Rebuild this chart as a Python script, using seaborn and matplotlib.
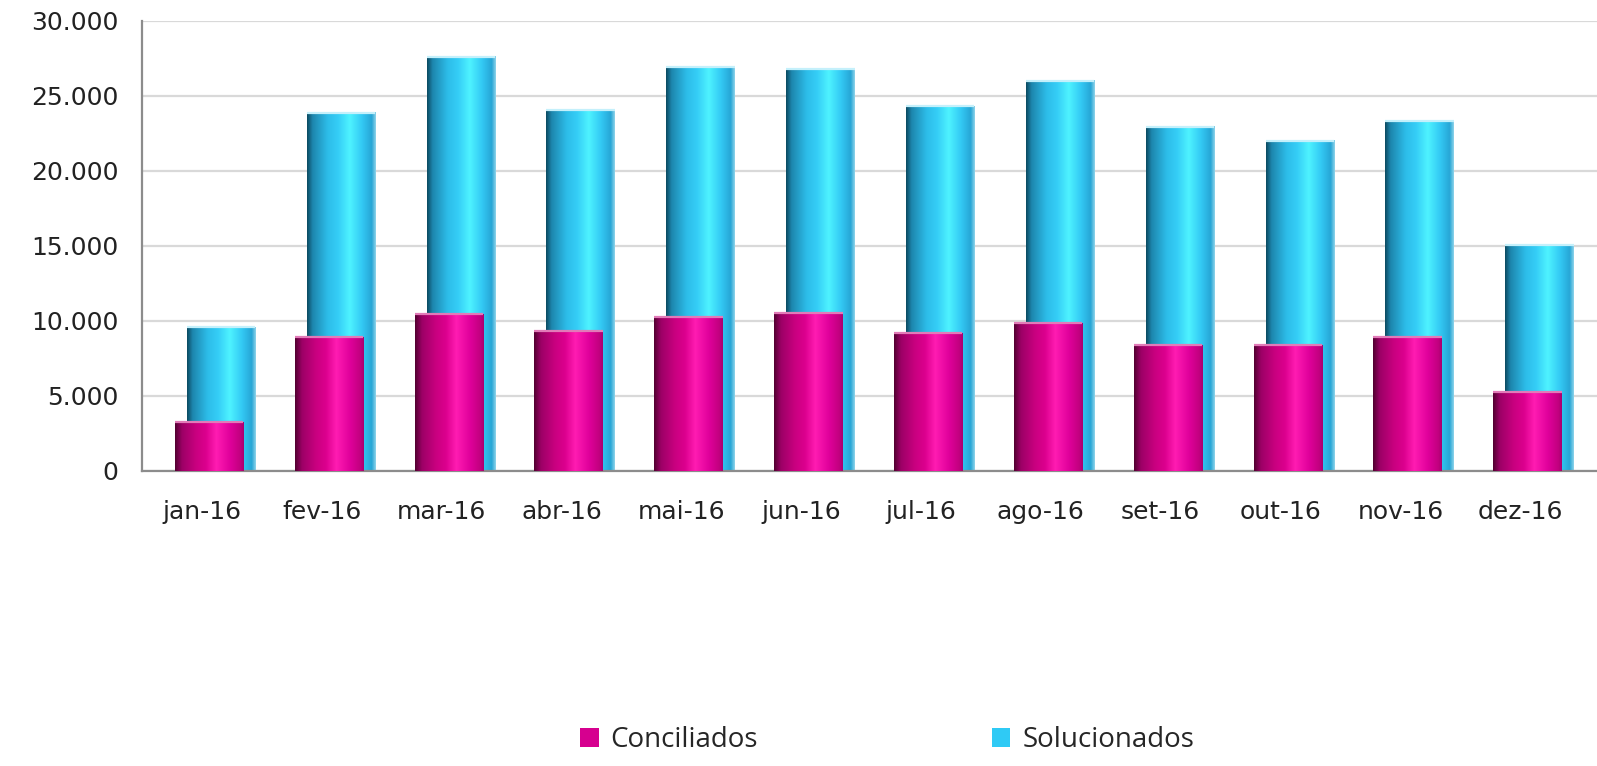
import numpy as np
import pandas as pd
import seaborn as sns
from matplotlib import pyplot as plt
from matplotlib.colors import LinearSegmentedColormap
from matplotlib.ticker import FuncFormatter, MultipleLocator

meses = ["jan-16", "fev-16", "mar-16", "abr-16", "mai-16", "jun-16",
         "jul-16", "ago-16", "set-16", "out-16", "nov-16", "dez-16"]
conciliados = [3250, 8930, 10430, 9300, 10270, 10530, 9160, 9850, 8370, 8350, 8900, 5220]
solucionados = [9570, 23870, 27600, 24050, 26920, 26770, 24330, 26010, 22940, 22010, 23300, 15020]

df = pd.DataFrame({"mes": meses, "Conciliados": conciliados, "Solucionados": solucionados})

sns.set_style("white")
plt.rcParams["font.family"] = ["DejaVu Sans"]

cmap_azul = LinearSegmentedColormap.from_list("azul", [
    (0.0, "#0b4a60"), (0.08, "#1d86ad"), (0.3, "#2dbde9"), (0.45, "#35cdf6"),
    (0.62, "#4ef3ff"), (0.8, "#33c9f4"), (0.94, "#27a6d6"), (1.0, "#8fd4ea")])
cmap_rosa = LinearSegmentedColormap.from_list("rosa", [
    (0.0, "#520030"), (0.1, "#9c0066"), (0.3, "#c8007f"), (0.45, "#dc008e"),
    (0.6, "#ff1cb2"), (0.8, "#e0009b"), (0.95, "#c2007f"), (1.0, "#a8006e")])

fig = plt.figure(figsize=(15.97, 7.66), dpi=100)
ax = fig.add_axes([0.0889, 0.3855, 0.9111, 0.5875])

largura = 0.57
sns.barplot(data=df, x="mes", y="Solucionados", color="#2fcaf5", width=largura,
            saturation=1, linewidth=0, label="Solucionados", ax=ax, zorder=2)
n_azul = len(ax.patches)
sns.barplot(data=df, x="mes", y="Conciliados", color="#d6008f", width=largura,
            saturation=1, linewidth=0, label="Conciliados", ax=ax, zorder=3)
if ax.get_legend() is not None:
    ax.get_legend().remove()

# efeito cilindro: gradiente horizontal por cima de cada barra
gradiente = np.linspace(0, 1, 256).reshape(1, -1)
for i, p in enumerate(ax.patches):
    azul = i < n_azul
    p.set_x(p.get_x() + (0.16 if azul else 0.06))
    x0, w, h = p.get_x(), p.get_width(), p.get_height()
    z = 2 if azul else 3
    ax.imshow(gradiente, cmap=cmap_azul if azul else cmap_rosa, aspect="auto",
              extent=[x0, x0 + w, 0, h], zorder=z + 0.1, interpolation="bilinear")
    ax.plot([x0, x0 + w], [h, h], color="#c4f0fb" if azul else "#e27ab8",
            lw=1.6, zorder=z + 0.2, solid_capstyle="butt")

ax.set_xlim(-0.5, 11.64)
ax.set_ylim(0, 30000)
ax.yaxis.set_major_locator(MultipleLocator(5000))
ax.yaxis.set_major_formatter(FuncFormatter(lambda v, _: f"{int(v):,}".replace(",", ".")))
ax.set_xlabel("")
ax.set_ylabel("")

ax.grid(axis="y", color="#d9d9d9", lw=1.6, zorder=0)
ax.set_axisbelow(True)
sns.despine(ax=ax, top=True, right=True)
for s in ("left", "bottom"):
    ax.spines[s].set_color("#8c8c8c")
    ax.spines[s].set_linewidth(1.6)

ax.set_xticks(np.arange(-0.5, 12, 1), minor=True)
ax.tick_params(axis="x", which="major", length=0, pad=21, labelsize=18, labelcolor="#222222")
ax.tick_params(axis="x", which="minor", length=6, width=1.6, color="#8c8c8c", direction="out")
ax.tick_params(axis="y", length=8, width=1.6, color="#8c8c8c", pad=9, labelsize=18,
               labelcolor="#222222")

handles, labels = ax.get_legend_handles_labels()
ordem = [labels.index("Conciliados"), labels.index("Solucionados")]
leg = fig.legend([handles[k] for k in ordem], [labels[k] for k in ordem],
                 loc="center left", bbox_to_anchor=(0.3544, 0.034), ncol=2, frameon=False,
                 prop={"family": "Open Sans", "size": 20}, borderpad=0,
                 handlelength=0.68, handleheight=0.68, handletextpad=0.43, columnspacing=8.4)
for h, c in zip(leg.legend_handles, ["#d6008f", "#2fcaf5"]):
    h.set_facecolor(c)
    h.set_edgecolor("none")

fig.savefig("out.png", dpi=100, facecolor="white")
